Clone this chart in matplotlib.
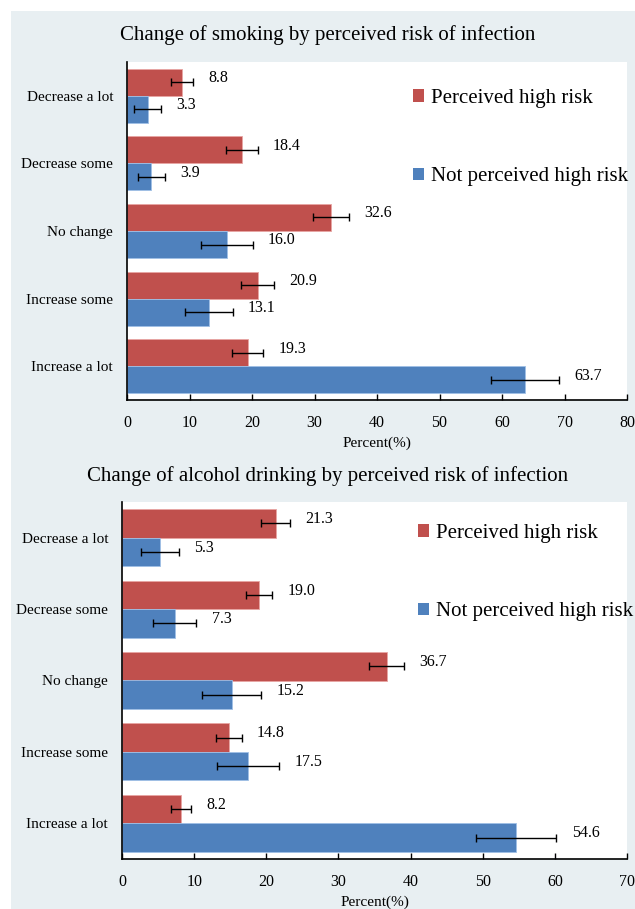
import matplotlib
matplotlib.use("Agg")
import matplotlib.pyplot as plt
from matplotlib.patches import Rectangle, Patch
import numpy as np

plt.rcParams['font.family'] = ['Liberation Serif', 'DejaVu Serif']

categories = ["Decrease a lot", "Decrease some", "No change", "Increase some", "Increase a lot"]
series_names = ["Perceived high risk", "Not perceived high risk"]

smoke_high = [8.8, 18.4, 32.6, 20.9, 19.3]
smoke_high_err = [1.8, 2.5, 2.9, 2.6, 2.5]
smoke_not = [3.3, 3.9, 16.0, 13.1, 63.7]
smoke_not_err = [2.2, 2.2, 4.1, 3.8, 5.4]

alc_high = [21.3, 19.0, 36.7, 14.8, 8.2]
alc_high_err = [2.0, 1.8, 2.4, 1.8, 1.4]
alc_not = [5.3, 7.3, 15.2, 17.5, 54.6]
alc_not_err = [2.6, 3.0, 4.1, 4.3, 5.6]

titles = ["Change of smoking by perceived risk of infection",
          "Change of alcohol drinking by perceived risk of infection"]
xlabel = "Percent(%)"

RED = "#c0504d"
BLUE = "#4f81bd"
BG = "#e8eff2"

W, H = 635, 909
fig = plt.figure(figsize=(W / 100, H / 100), dpi=100)
fig.patch.set_facecolor("white")
fig.patches.append(Rectangle((11 / W, 0), 1 - 11 / W, 1 - 11 / H,
                             transform=fig.transFigure, facecolor=BG,
                             edgecolor="none", zorder=-10))


def px(x0, y0, x1, y1):
    return [x0 / W, 1 - y1 / H, (x1 - x0) / W, (y1 - y0) / H]


def panel(rect, high, high_err, not_, not_err, xmax, title, title_y, leg_x, leg_y):
    ax = fig.add_axes(rect)
    ax.set_facecolor("white")
    n = len(categories)
    y = np.arange(n)[::-1]
    h = 0.4
    ax.barh(y + h / 2, high, height=h, color=RED, edgecolor="#e8a5a3", linewidth=0.6)
    ax.barh(y - h / 2, not_, height=h, color=BLUE, edgecolor="#9fc0e6", linewidth=0.6)
    ax.errorbar(high, y + h / 2, xerr=high_err, fmt="none", ecolor="black",
                elinewidth=1, capsize=3, capthick=1)
    ax.errorbar(not_, y - h / 2, xerr=not_err, fmt="none", ecolor="black",
                elinewidth=1, capsize=3, capthick=1)
    for vals, errs, off in ((high, high_err, h / 2), (not_, not_err, -h / 2)):
        for yi, v, e in zip(y, vals, errs):
            ax.annotate(f"{v:.1f}", (v + e, yi + off), xytext=(11, 3),
                        textcoords="offset points", ha="left", va="center",
                        fontsize=11.5)
    ax.set_ylim(-0.5, n - 0.5)
    ax.set_xlim(0, xmax)
    ax.set_xticks(np.arange(0, xmax + 1, 10))
    ax.set_yticks(y)
    ax.set_yticklabels(categories, fontsize=11)
    ax.tick_params(axis="y", length=0, pad=10)
    ax.tick_params(axis="x", direction="in", length=4, width=1, labelsize=11.5, pad=11)
    for s in ("top", "right"):
        ax.spines[s].set_visible(False)
    for s in ("left", "bottom"):
        ax.spines[s].set_color("black")
        ax.spines[s].set_linewidth(1.2)
    ax.set_xlabel(xlabel, fontsize=11, labelpad=4)
    fig.text(328 / W, 1 - title_y / H, title, ha="center", va="center", fontsize=15)
    handles = [Patch(facecolor=RED), Patch(facecolor=BLUE)]
    ax.legend(handles, series_names, loc="upper left",
              bbox_to_anchor=(leg_x / W, 1 - leg_y / H),
              bbox_transform=fig.transFigure, frameon=False, fontsize=15,
              borderpad=0, borderaxespad=0, handlelength=0.55, handleheight=0.55,
              handletextpad=0.3, labelspacing=2.85)
    return ax


panel(px(127, 62, 627, 400), smoke_high, smoke_high_err, smoke_not, smoke_not_err,
      80, titles[0], 35, 413, 89)
panel(px(122, 502, 627, 859), alc_high, alc_high_err, alc_not, alc_not_err,
      70, titles[1], 476, 418, 524)

fig.savefig("out.png", dpi=100, facecolor=fig.get_facecolor())
